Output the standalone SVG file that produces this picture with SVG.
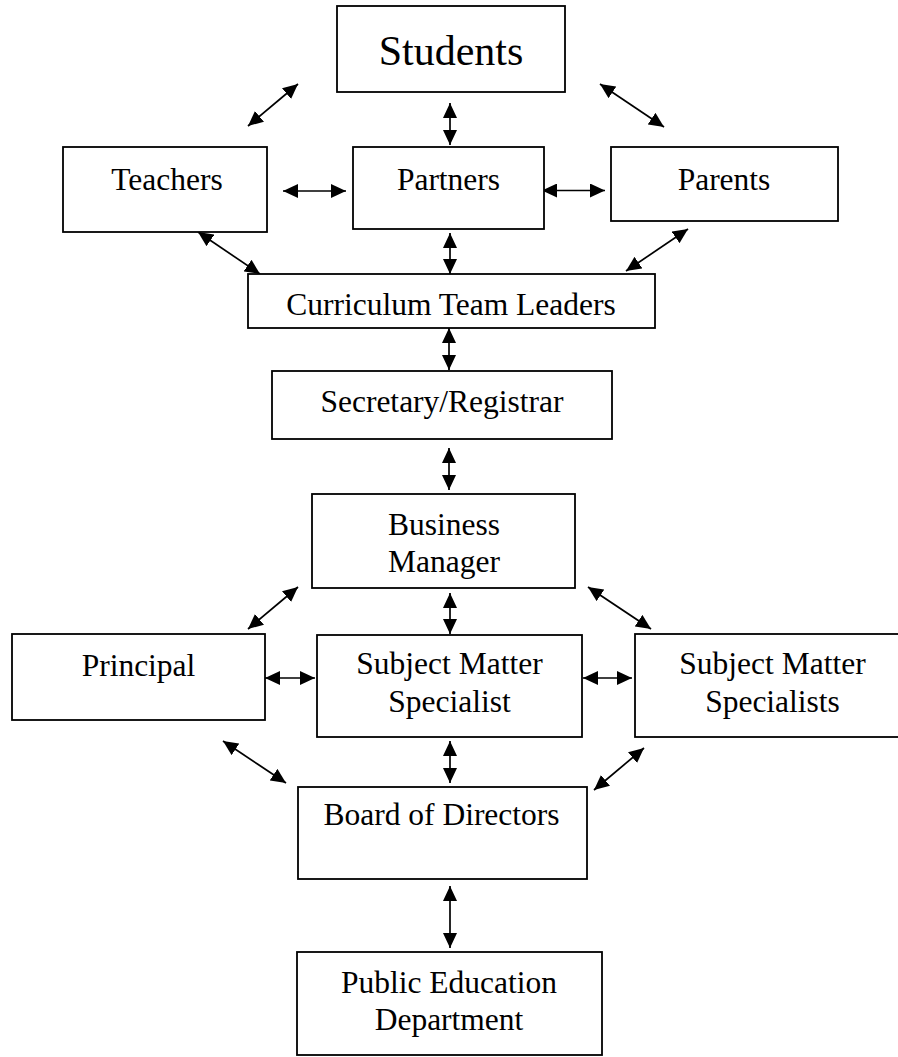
<svg xmlns="http://www.w3.org/2000/svg" width="898" height="1057" viewBox="0 0 898 1057">
<style>
.box{fill:#fff;stroke:#000;stroke-width:1.8}
.t{font-family:"Liberation Serif","Times New Roman",serif;font-size:31.5px;fill:#000;text-anchor:middle}
.big{font-size:42px}
.c{stroke:#000;stroke-width:1.7;fill:none;marker-start:url(#ah);marker-end:url(#ah)}
</style>
<defs>
<marker id="ah" markerUnits="userSpaceOnUse" markerWidth="15" markerHeight="14" refX="15" refY="7" orient="auto-start-reverse">
<path d="M0,0 L15,7 L0,14 z" fill="#000"/>
</marker>
</defs>
<rect width="898" height="1057" fill="#fff"/>
<g id="connectors">
<line class="c" x1="248" y1="126" x2="298" y2="84"/>
<line class="c" x1="450" y1="103" x2="450" y2="145"/>
<line class="c" x1="600" y1="84" x2="664" y2="127"/>
<line class="c" x1="283" y1="191" x2="346" y2="191"/>
<line class="c" x1="542" y1="190.5" x2="605" y2="190.5"/>
<line class="c" x1="198" y1="232" x2="260" y2="274"/>
<line class="c" x1="450" y1="233" x2="450" y2="274"/>
<line class="c" x1="688" y1="229" x2="626" y2="271"/>
<line class="c" x1="449" y1="328" x2="449" y2="370"/>
<line class="c" x1="449" y1="448" x2="449" y2="490"/>
<line class="c" x1="248" y1="629" x2="298" y2="587"/>
<line class="c" x1="450" y1="593" x2="450" y2="634"/>
<line class="c" x1="588" y1="587" x2="651" y2="629"/>
<line class="c" x1="265" y1="678" x2="315" y2="678"/>
<line class="c" x1="583" y1="678" x2="632" y2="678"/>
<line class="c" x1="223" y1="741" x2="286" y2="783"/>
<line class="c" x1="450" y1="741" x2="450" y2="783"/>
<line class="c" x1="644" y1="748" x2="594" y2="790"/>
<line class="c" x1="450" y1="886" x2="450" y2="948"/>
</g>
<g id="students"><rect class="box" x="337" y="6" width="228" height="86"/><text class="t big" x="451" y="65">Students</text></g>
<g id="teachers"><rect class="box" x="63" y="147" width="204" height="85"/><text class="t" x="167" y="190">Teachers</text></g>
<g id="partners"><rect class="box" x="353" y="147" width="191" height="82"/><text class="t" x="448.5" y="190">Partners</text></g>
<g id="parents"><rect class="box" x="611" y="147" width="227" height="74"/><text class="t" x="724" y="189.5">Parents</text></g>
<g id="curriculum"><rect class="box" x="248" y="274" width="407" height="54"/><text class="t" x="451" y="315">Curriculum Team Leaders</text></g>
<g id="secretary"><rect class="box" x="272" y="371" width="340" height="68"/><text class="t" x="442" y="411.5">Secretary/Registrar</text></g>
<g id="business"><rect class="box" x="312" y="494" width="263" height="94"/><text class="t" x="444" y="535">Business</text><text class="t" x="444" y="571.5">Manager</text></g>
<g id="principal"><rect class="box" x="12" y="634" width="253" height="86"/><text class="t" x="138.5" y="676">Principal</text></g>
<g id="sms"><rect class="box" x="317" y="635" width="265" height="102"/><text class="t" x="449.5" y="674">Subject Matter</text><text class="t" x="449.5" y="711.5">Specialist</text></g>
<g id="smss"><rect class="box" x="635" y="634" width="275" height="103"/><text class="t" x="772.5" y="674">Subject Matter</text><text class="t" x="772.5" y="711.5">Specialists</text></g>
<g id="board"><rect class="box" x="298" y="787" width="289" height="92"/><text class="t" x="441.5" y="825">Board of Directors</text></g>
<g id="ped"><rect class="box" x="297" y="952" width="305" height="103"/><text class="t" x="449" y="993">Public Education</text><text class="t" x="449" y="1030">Department</text></g>
</svg>
